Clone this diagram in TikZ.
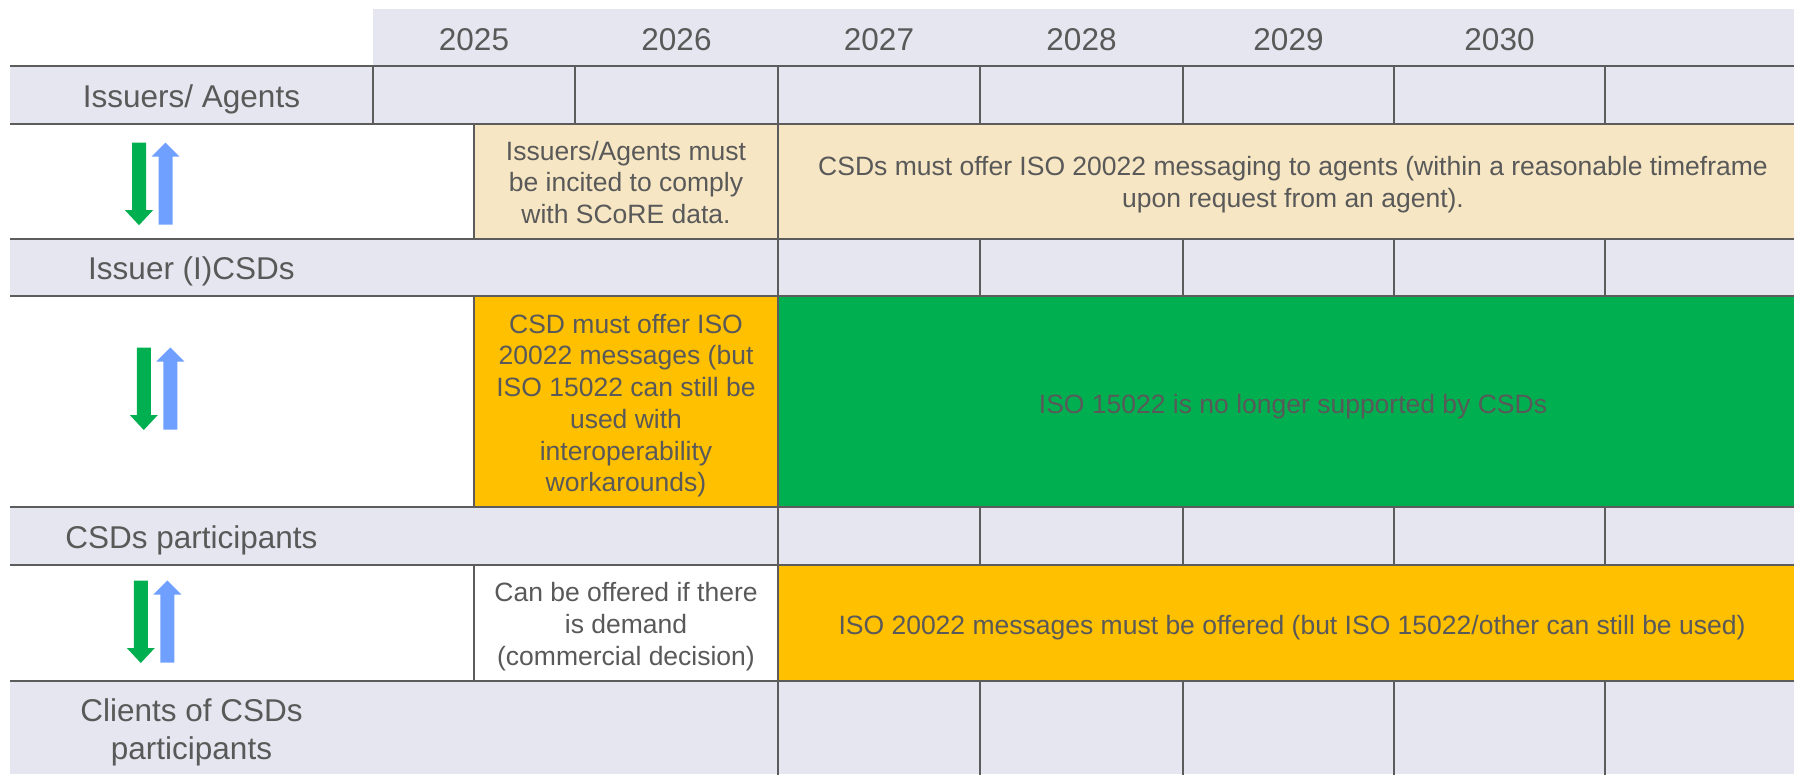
\documentclass[tikz,border=0pt]{standalone}
\usepackage{fontspec}
\setmainfont{Liberation Sans}
\definecolor{rowgray}{RGB}{230,230,240}
\definecolor{beige}{RGB}{246,230,195}
\definecolor{amber}{RGB}{255,192,0}
\definecolor{leaf}{RGB}{0,176,80}
\definecolor{sky}{RGB}{111,160,255}
\definecolor{ink}{RGB}{89,89,89}
\definecolor{linegray}{RGB}{92,92,92}
\begin{document}
\begin{tikzpicture}[x=1pt,y=-1pt,
  gridline/.style={draw=linegray,line width=2.8pt},
  rowlabel/.style={font=\fontsize{31.5}{38}\selectfont,text=ink,inner sep=0pt},
  celltext/.style={font=\fontsize{26.5}{31.7}\selectfont,text=ink,inner sep=0pt,align=center},
  arrowpair/.pic={
    \fill[leaf] (-7,0) -- (7,0) -- (7,67.5) -- (14,67.5) -- (0,82.5) -- (-14,67.5) -- (-7,67.5) -- cycle;
    \fill[sky] (26.5,0) -- (40.5,14) -- (33.5,14) -- (33.5,82) -- (19.5,82) -- (19.5,14) -- (12.5,14) -- cycle;
  }]
\useasboundingbox (0,0) rectangle (1794,774);
\fill[white] (0,0) rectangle (1794,774);

% band fills
\fill[rowgray] (373,9) rectangle (1794,66);
\fill[rowgray] (10,66) rectangle (1794,124);
\fill[beige] (474,124) rectangle (1794,239);
\fill[rowgray] (10,239) rectangle (1794,296);
\fill[amber] (474,296) rectangle (778,507);
\fill[leaf] (778,296) rectangle (1794,507);
\fill[rowgray] (10,507) rectangle (1794,565);
\fill[amber] (778,565) rectangle (1794,681);
\fill[rowgray] (10,681) rectangle (1794,774);

% horizontal rules
\foreach \y in {66,124,239,296,507,565,681}
  \draw[gridline] (10,\y) -- (1794,\y);

% vertical rules
\foreach \x in {373,575,778,980,1183,1394,1605}
  \draw[gridline] (\x,66) -- (\x,124);
\foreach \x in {474,778}{
  \draw[gridline] (\x,124) -- (\x,239);
  \draw[gridline] (\x,296) -- (\x,507);
  \draw[gridline] (\x,565) -- (\x,681);
}
\foreach \x in {778,980,1183,1394,1605}{
  \draw[gridline] (\x,239) -- (\x,296);
  \draw[gridline] (\x,507) -- (\x,565);
  \draw[gridline] (\x,681) -- (\x,776);
}

% year headings
\node[rowlabel,anchor=base] (y2025) at (474,50) {2025};
\node[rowlabel,anchor=base] (y2026) at (676.5,50) {2026};
\node[rowlabel,anchor=base] (y2027) at (879,50) {2027};
\node[rowlabel,anchor=base] (y2028) at (1081.5,50) {2028};
\node[rowlabel,anchor=base] (y2029) at (1288.5,50) {2029};
\node[rowlabel,anchor=base] (y2030) at (1499.5,50) {2030};

% row labels
\node[rowlabel,anchor=base] (issuers) at (191.5,107.3) {Issuers/ Agents};
\node[rowlabel,anchor=base] (icsds) at (191.5,279.3) {Issuer (I)CSDs};
\node[rowlabel,anchor=base] (parts) at (191.5,548.3) {CSDs participants};
\node[rowlabel,align=center] (clients) at (191.5,733.1)
  {\strut Clients of CSDs\\participants\strut};

% cell texts
\node[celltext] (incite) at (626,185.6)
  {\strut Issuers/Agents must\\be incited to comply\\with SCoRE data.\strut};
\node[celltext] (offeragents) at (1293,185.2)
  {\strut CSDs must offer ISO 20022 messaging to agents (within a reasonable timeframe\\upon request from an agent).\strut};
\node[celltext] (csdoffer) at (626,406.2)
  {\strut CSD must offer ISO\\20022 messages (but\\ISO 15022 can still be\\used with\\interoperability\\workarounds)\strut};
\node[celltext,anchor=base] (nolonger) at (1293,413.3)
  {ISO 15022 is no longer supported by CSDs};
\node[celltext] (demand) at (626,627.1)
  {\strut Can be offered if there\\is demand\\(commercial decision)\strut};
\node[celltext,anchor=base] (mustoffer) at (1292,634)
  {ISO 20022 messages must be offered (but ISO 15022/other can still be used)};

% two-way flow arrows
\pic at (139,142.7) {arrowpair};
\pic at (143.8,347.5) {arrowpair};
\pic at (140.8,580.5) {arrowpair};
\end{tikzpicture}
\end{document}
